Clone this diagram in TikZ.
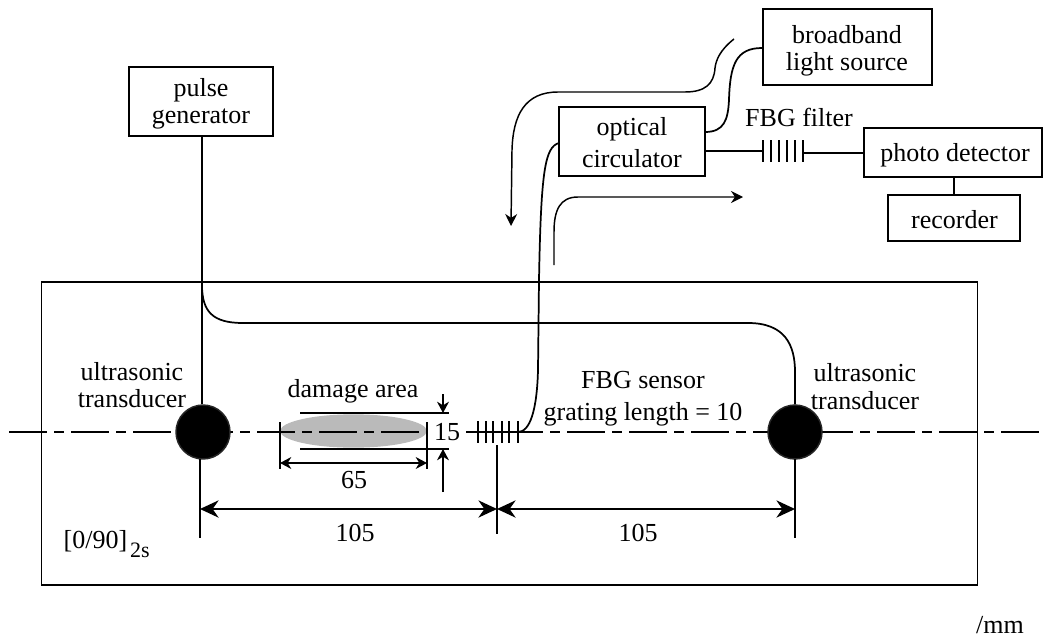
\documentclass[tikz,border=0pt]{standalone}
\usepackage{fontspec}
\setmainfont{Liberation Serif}
\usetikzlibrary{arrows.meta, shapes.geometric}
\begin{document}
\begin{tikzpicture}[
    x=0.75pt, y=-0.75pt,
    line width=1.1pt,
    device/.style={rectangle, draw, line width=1.4pt, inner sep=0pt},
    txt/.style={inner sep=0pt, align=center, font=\fontsize{19.5}{20.5}\selectfont},
    transducer/.style={circle, draw=black!85, fill=black, minimum size=40.5pt, inner sep=0pt},
    fiber/.style={line width=1.3pt},
    flow/.style={line width=1.1pt, -{Stealth[length=9pt, width=9pt]}},
    dim/.style={line width=1pt, {Stealth[length=8.5pt, width=9pt]}-{Stealth[length=8.5pt, width=9pt]}},
    bigdim/.style={line width=1pt, {Stealth[length=14pt, width=13pt]}-{Stealth[length=14pt, width=13pt]}},
    ext/.style={line width=1pt},
    hit/.style={-{Stealth[length=8.5pt, width=9pt]}, line width=1pt}
]
    \useasboundingbox (0, 0) rectangle (1043, 639);

    % Plate
    \node[draw, line width=1.3pt, minimum width=702pt, minimum height=227pt, inner sep=0pt] (plate) at (509.5, 433.5) {};
    \coordinate (axisl) at (9, 432);
    \coordinate (axisr) at (1040, 432);

    % Damage area (under the axis)
    \node[ellipse, fill=black!27, minimum width=110pt, minimum height=25pt, inner sep=0pt] (damage) at (353.5, 431) {};
    \draw[line width=1.2pt, dash pattern=on 28.5pt off 5.25pt on 7.5pt off 5.25pt] (axisl) -- (axisr);

    % Devices
    \node[device, minimum width=108pt, minimum height=52pt] (pulse) at (201, 101.5) {};
    \node[txt] at (201, 104) {pulse\\generator};
    \node[device, minimum width=127pt, minimum height=57pt] (source) at (847.5, 47) {};
    \node[txt] at (847, 50.5) {broadband\\light source};
    \node[device, minimum width=109pt, minimum height=52pt] (circ) at (632, 141.5) {};
    \node[txt] at (632, 143) {optical\\[3.5pt]circulator};
    \node[device, minimum width=134pt, minimum height=37pt] (detector) at (953, 152.5) {};
    \node[txt] at (955, 155.5) {photo detector};
    \node[device, minimum width=99pt, minimum height=35pt] (recorder) at (954, 218) {};
    \node[txt] at (954.5, 220) {recorder};
    \draw[line width=1pt] (detector.south -| recorder.north) -- (recorder.north);

    % Transducers
    \node[transducer] (tleft) at (203, 432) {};
    \node[transducer] (tright) at (795, 432) {};
    \node[txt] at (132, 385) {ultrasonic\\transducer};
    \node[txt] at (865, 386.5) {ultrasonic\\transducer};

    % Wiring from the pulse generator
    \coordinate (branch) at (202, 285);
    \draw[fiber] (pulse.south -| branch) -- (branch |- tleft.north);
    \draw[ext] (200, 459) -- (200, 538);
    \draw[fiber] (branch) .. controls (202, 312) and (213, 323) .. (243, 323) -- (748, 323)
        .. controls (785, 323) and (795, 345) .. (795, 372) -- (tright.north);

    % FBG sensor
    \coordinate (gl) at (468, 432);
    \coordinate (gr) at (518, 432);
    \coordinate (portc) at (559, 143);
    \draw[fiber] (gl) -- (gr);
    \foreach \tx in {478, 486, 493, 502, 509, 518}
        \draw[line width=1.1pt] (\tx, 421) -- (\tx, 443);
    \draw[fiber] (portc) .. controls (545, 147) and (541, 170) .. (539, 280)
        -- (538, 370) .. controls (537, 410) and (530, 432) .. (gr);
    \node[txt] at (643, 398.5) {FBG sensor\\[3.5pt]grating length = 10};

    % FBG filter
    \coordinate (fl) at (763, 151);
    \coordinate (fr) at (804, 153);
    \draw[fiber] (circ.east |- fl) -- (fl);
    \draw[fiber] (fr) -- (detector.west |- fr);
    \foreach \tx/\lw in {763/1.5, 771/0.9, 779/0.9, 787/0.9, 795/0.9, 803/1.5}
        \draw[line width=\lw pt] (\tx, 140) -- (\tx, 162);
    \node[txt] at (799, 117) {FBG filter};

    % Circulator to source
    \coordinate (porta) at (705, 132);
    \coordinate (portb) at (762, 48);
    \draw[fiber] (porta) .. controls (724, 132) and (728, 120) .. (729, 100)
        .. controls (730, 65) and (736, 48) .. (portb);

    % Light paths
    \coordinate (pa0) at (734, 39);
    \coordinate (pa1) at (511, 226);
    \coordinate (pb0) at (554, 265);
    \coordinate (pb1) at (743, 197);
    \draw[flow] (pa0) .. controls (720, 50) and (716, 60) .. (715, 68)
        .. controls (714, 84) and (705, 92) .. (685, 92) -- (558, 92)
        .. controls (525, 92) and (513, 115) .. (512, 150) -- (pa1);
    \draw[flow] (pb0) -- (554, 232) .. controls (554, 210) and (560, 197) .. (578, 197) -- (pb1);

    % Damage dimensions
    \coordinate (d15a) at (443, 394);
    \coordinate (d15b) at (443, 492);
    \node[fill=white, inner sep=0pt, minimum width=29pt, font=\fontsize{19.5}{20.5}\selectfont] (size15) at (447, 432) {15};
    \draw[ext] (300, 413) -- (449, 413);
    \draw[ext] (300, 449) -- (449, 449);
    \draw[hit] (d15a) -- (443, 413);
    \draw[hit] (d15b) -- (443, 449);
    \draw[ext] (280, 422) -- (280, 469);
    \draw[ext] (427, 422) -- (427, 469);
    \draw[dim] (280, 463) -- (427, 463);
    \node[txt] at (354, 480) {65};
    \node[txt] at (353, 391) {damage area};

    % Main dimensions
    \draw[ext] (497, 445) -- (497, 534);
    \draw[ext] (795, 459) -- (795, 538);
    \draw[bigdim] (200, 509) -- (497, 509);
    \draw[bigdim] (497, 509) -- (795, 509);
    \node[txt] at (355, 533) {105};
    \node[txt] at (638, 533) {105};
    \node[txt, anchor=west] at (63, 541) {[0/90]};
    \node[txt, font=\fontsize{16.5}{17}\selectfont] at (140, 550) {2s};
    \node[txt] at (1000, 625) {/mm};
\end{tikzpicture}
\end{document}
